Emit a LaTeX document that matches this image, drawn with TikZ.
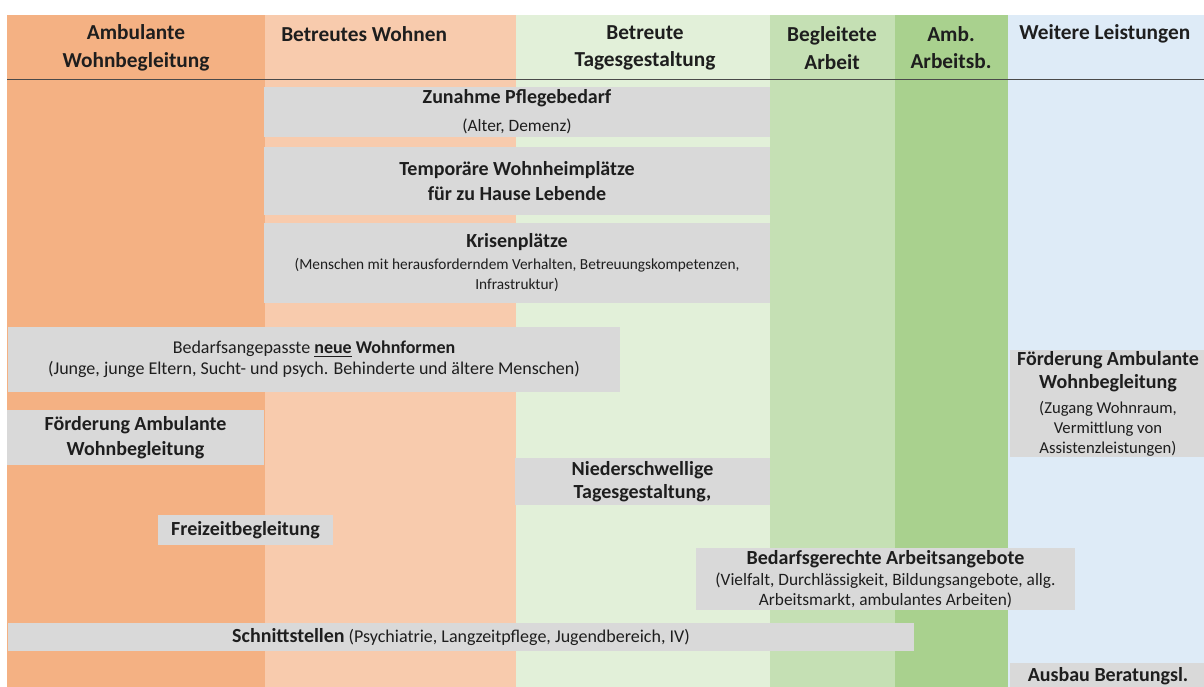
\documentclass[tikz,border=0pt]{standalone}
\usepackage{fontspec}
\setmainfont{Carlito}
\usepackage{tikz}
\definecolor{colAWB}{HTML}{F4B183}
\definecolor{colBW}{HTML}{F8CBAD}
\definecolor{colBT}{HTML}{E2F0D9}
\definecolor{colBA}{HTML}{C5E0B4}
\definecolor{colAA}{HTML}{A9D18E}
\definecolor{colWL}{HTML}{DEEBF7}
\definecolor{boxgrey}{HTML}{D9D9D9}
\definecolor{txt}{HTML}{1E1E1E}
\definecolor{rule}{HTML}{4A4A4A}
\def\px{0.75pt}
\def\fs#1#2{\fontsize{#1}{#2}\selectfont}
\def\tfont{\fs{15}{20}\bfseries}

\begin{document}
\begin{tikzpicture}[
			x=\px, y=-\px,
			greybox/.style={fill=boxgrey,inner sep=0pt,align=center,text=txt},
			gb/.style 2 args={minimum width=#1*\px,minimum height=#2*\px},
			head/.style={font=\fs{16}{20.6}\bfseries,align=center,text=txt,inner sep=0pt},
			inner sep=0pt]
			\useasboundingbox (0,0) rectangle (1204,686);
			\fill [white] (0,0) rectangle (1204,686);
			\fill [colAWB] (7,15) rectangle (265,690);
			\fill [colBW] (265,15) rectangle (516,690);
			\fill [colBT] (516,15) rectangle (770,690);
			\fill [colBA] (770,15) rectangle (895,690);
			\fill [colAA] (895,15) rectangle (1008,690);
			\fill [colWL] (1008,15) rectangle (1210,690);
			\draw [rule,line width=1.1pt] (7,79.5) -- (1210,79.5);
			\node [head] (hdAWB) at (136,48) {Ambulante\\Wohnbegleitung};
			\node [head,anchor=west] (hdBW) at (281,34) {Betreutes Wohnen};
			\node [head] (hdBT) at (645,48) {Betreute\\Tagesgestaltung};
			\node [head] (hdBA) at (832,48) {Begleitete\\Arbeit};
			\node [head] (hdAA) at (951,47.5) {Amb.\\Arbeitsb.};
			\node [head,anchor=west] (hdWL) at (1019,34) {Weitere Leistungen};
			\node [greybox,gb={506}{50},font=\fs{13}{21}] (boxPflege) at (517,112)
				{{\tfont Zunahme Pflegebedarf}\\(Alter, Demenz)};
			\node [greybox,gb={506}{68},font=\fs{15}{19}\bfseries] (boxTemp) at (517,181)
				{Temporäre Wohnheimplätze\\für zu Hause Lebende};
			\node [greybox,gb={506}{80},font=\fs{11.5}{15}] (boxKrisen) at (517,263)
				{{\tfont Krisenplätze}\\[1.5pt](Menschen mit herausforderndem Verhalten, Betreuungskompetenzen,\\Infrastruktur)};
			\node [greybox,gb={612}{65},font=\fs{13.5}{15.5}] (boxWohnformen) at (314,359.5)
				{Bedarfsangepasste {\bfseries\underline{neue} Wohnformen}\\(Junge, junge Eltern, Sucht- und psych. Behinderte und ältere Menschen)};
			\node [greybox,gb={196}{107},font=\fs{12.5}{15}] (boxFoerderR) at (1108,403.5)
				{{\tfont Förderung Ambulante}\\[2.25pt]{\tfont Wohnbegleitung}\\[3.75pt](Zugang Wohnraum,\\Vermittlung von\\Assistenzleistungen)};
			\node [greybox,gb={257}{55},font=\fs{15}{19}\bfseries] (boxFoerderL) at (135.5,437.5)
				{Förderung Ambulante\\Wohnbegleitung};
			\node [greybox,gb={255}{47},font=\fs{15}{17}\bfseries] (boxNieder) at (642.5,481.5)
				{Niederschwellige\\Tagesgestaltung,};
			\node [greybox,gb={175}{30},font=\tfont] (boxFreizeit) at (245.5,530)
				{Freizeitbegleitung};
			\node [greybox,gb={379}{62},font=\fs{13}{15}] (boxArbeit) at (885.5,579)
				{{\tfont Bedarfsgerechte Arbeitsangebote}\\[1pt](Vielfalt, Durchlässigkeit, Bildungsangebote, allg.\\Arbeitsmarkt, ambulantes Arbeiten)};
			\node [greybox,gb={906}{28},font=\fs{13.5}{16}] (boxSchnitt) at (461,637)
				{{\tfont Schnittstellen} (Psychiatrie, Langzeitpflege, Jugendbereich, IV)};
			\node [greybox,gb={196}{27},font=\tfont] (boxBeratung) at (1108,676.5)
				{Ausbau Beratungsl.};
		\end{tikzpicture}
\end{document}
